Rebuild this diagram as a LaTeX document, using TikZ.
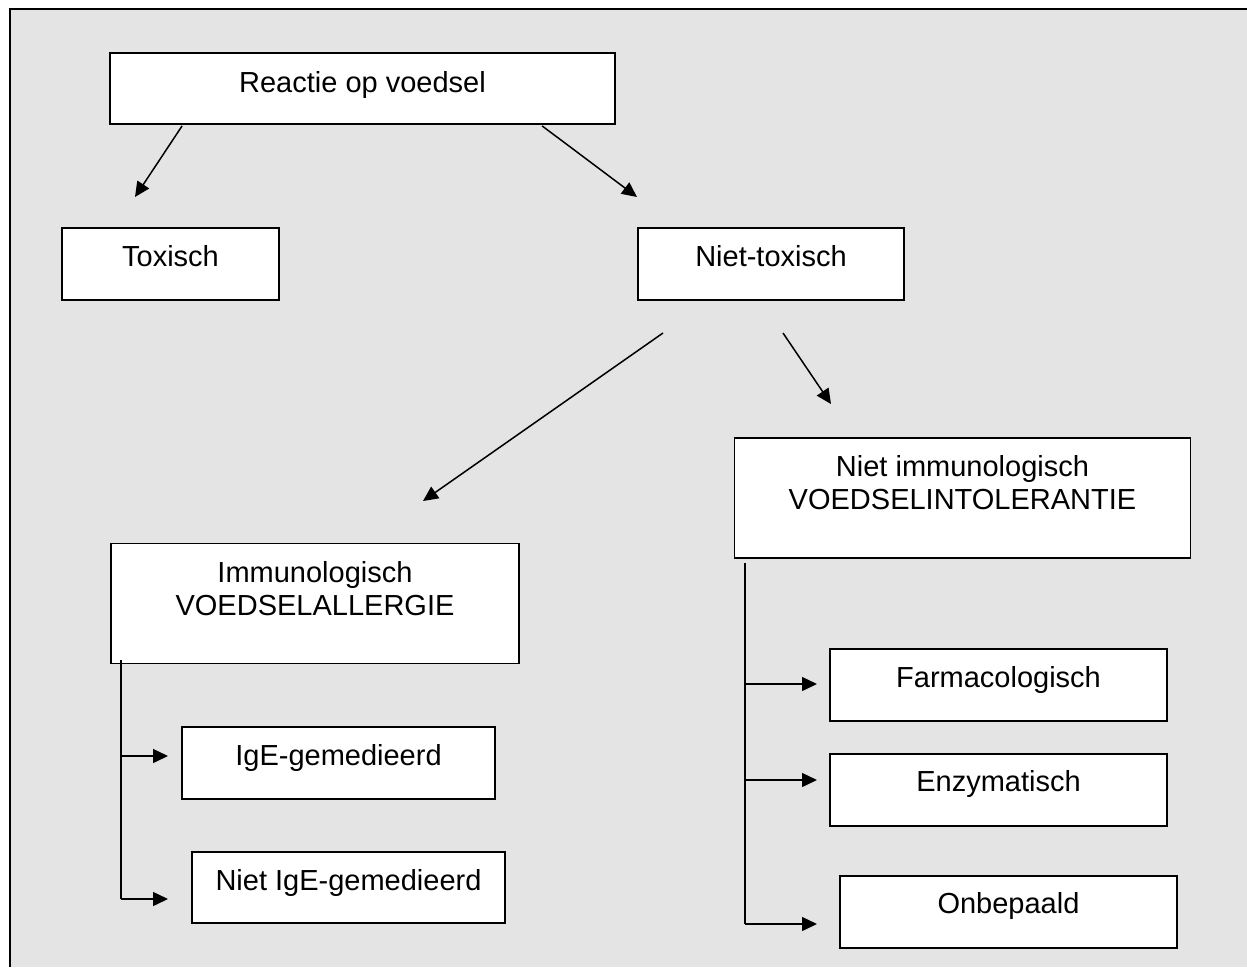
\documentclass[tikz,border=0pt]{standalone}
\usepackage{fontspec}
\setmainfont{Liberation Sans}
\usetikzlibrary{arrows.meta}
\definecolor{bggray}{RGB}{228,228,228}
\tikzset{
  box/.style={draw=black, line width=1.8pt, fill=white, rectangle, inner sep=0pt},
  txt/.style={anchor=base, inner sep=0pt, font=\fontsize{29}{33}\selectfont},
  arr/.style={line width=1.5pt, -{Triangle[length=15pt,width=14pt]}},
  ln/.style={line width=1.5pt}
}
\begin{document}
\begin{tikzpicture}[x=1pt,y=-1pt]
\useasboundingbox (0,0) rectangle (1247,967);
\fill[white] (0,0) rectangle (1247,967);
\fill[bggray] (10,9) rectangle (1247,967);
\draw[line width=2.2pt] (10,967) -- (10,9) -- (1247,9);

% boxes
\node[box, minimum width=505pt, minimum height=71pt] (r) at (362.5,88.5) {};
\node[txt] (rt) at (362.5,92) {Reactie op voedsel};

\node[box, minimum width=217pt, minimum height=72pt] (tox) at (170.5,264) {};
\node[txt] (toxt) at (170.5,266) {Toxisch};

\node[box, minimum width=266pt, minimum height=72pt] (nt) at (771,264) {};
\node[txt] (ntt) at (771,266) {Niet-toxisch};

\node[box, minimum width=408pt, minimum height=120pt] (imm) at (315,603.5) {};
\node[txt] (immt1) at (315,582) {Immunologisch};
\node[txt] (immt2) at (315,615) {VOEDSELALLERGIE};

\node[box, minimum width=456pt, minimum height=120pt] (nimm) at (962.5,498) {};
\node[txt] (nimmt1) at (962.5,476) {Niet immunologisch};
\node[txt] (nimmt2) at (962.5,509) {VOEDSELINTOLERANTIE};

\node[box, minimum width=313pt, minimum height=72pt] (ige) at (338.5,763) {};
\node[txt] (iget) at (338.5,765) {IgE-gemedieerd};

\node[box, minimum width=313pt, minimum height=71pt] (nige) at (348.5,887.5) {};
\node[txt] (niget) at (348.5,890) {Niet IgE-gemedieerd};

\node[box, minimum width=337pt, minimum height=72pt] (farm) at (998.5,685) {};
\node[txt] (farmt) at (998.5,687) {Farmacologisch};

\node[box, minimum width=337pt, minimum height=72pt] (enz) at (998.5,790) {};
\node[txt] (enzt) at (998.5,791) {Enzymatisch};

\node[box, minimum width=337pt, minimum height=72pt] (onb) at (1008.5,912) {};
\node[txt] (onbt) at (1008.5,913) {Onbepaald};

% arrow end points
\coordinate (t1) at (135,197);
\coordinate (t2) at (637,197);
\coordinate (s3) at (663,333);
\coordinate (t3) at (423,501);
\coordinate (s4) at (783,333);
\coordinate (t4) at (831,404);

\draw[arr] ([xshift=73pt,yshift=-1pt]r.south west) -- (t1);
\draw[arr] ([xshift=433pt,yshift=-1pt]r.south west) -- (t2);
\draw[arr] (s3) -- (t3);
\draw[arr] (s4) -- (t4);

% left bracket
\coordinate (lb0) at (121,660);
\coordinate (lb1) at (121,756);
\coordinate (lb2) at (121,899);
\coordinate (la1) at (168,756);
\coordinate (la2) at (168,899);
\draw[ln] (lb0) -- (lb2);
\draw[arr] (lb1) -- (la1);
\draw[arr] (lb2) -- (la2);

% right bracket
\coordinate (rb0) at (745,563);
\coordinate (rb1) at (745,684);
\coordinate (rb2) at (745,780);
\coordinate (rb3) at (745,924);
\coordinate (ra1) at (817,684);
\coordinate (ra2) at (817,780);
\coordinate (ra3) at (817,924);
\draw[ln] (rb0) -- (rb3);
\draw[arr] (rb1) -- (ra1);
\draw[arr] (rb2) -- (ra2);
\draw[arr] (rb3) -- (ra3);
\end{tikzpicture}
\end{document}
